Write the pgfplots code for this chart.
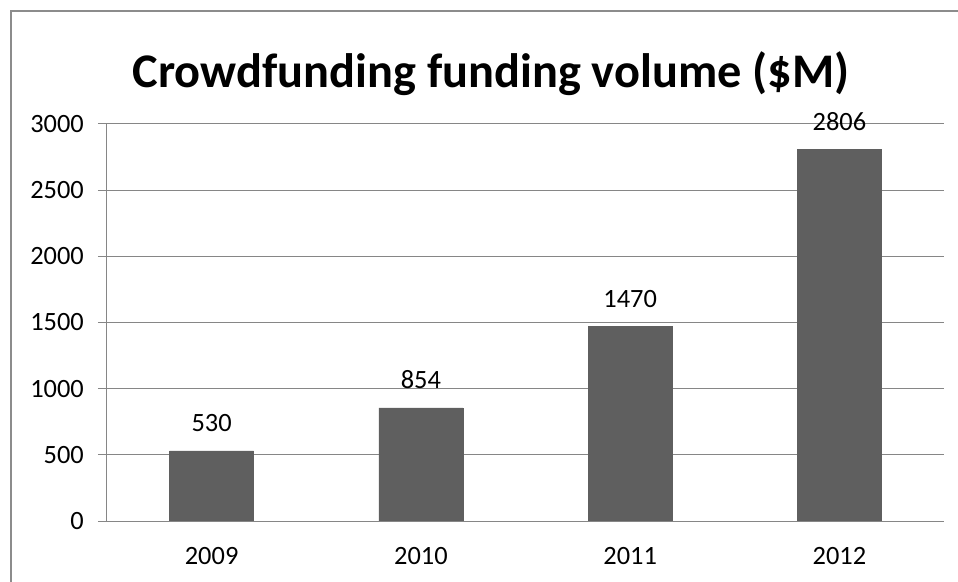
\documentclass[border=0pt]{standalone}
\usepackage{pgfplots}
\pgfplotsset{compat=1.18}
\usepackage{fontspec}
\setmainfont{Carlito}
\definecolor{barcol}{HTML}{5F5F5F}
\definecolor{gridcol}{HTML}{868686}
\definecolor{bordercol}{HTML}{8C8C8C}
\begin{document}
\begin{tikzpicture}
\useasboundingbox (-107bp,-61bp) rectangle (851bp,521bp);
\draw[bordercol, line width=2bp] (-96bp,-62bp) -- (-96bp,510bp) -- (852bp,510bp);
\begin{axis}[
  at={(0,0)}, anchor=south west,
  scale only axis,
  width=837bp, height=397bp,
  xmin=-0.5, xmax=3.5,
  ymin=0, ymax=3000,
  ytick={0,500,...,3000},
  xtick={0,1,2,3},
  xticklabels={2009,2010,2011,2012},
  axis x line*=bottom, axis y line*=left,
  axis line style={gridcol, line width=1bp, -},
  ymajorgrids, major grid style={gridcol, line width=1bp},
  tick style={gridcol, line width=1bp},
  x tick style={draw=none},
  y tick style={gridcol},
  tick align=outside,
  major tick length=9bp,
  extra x ticks={-0.5,0.5,1.5,2.5,3.5},
  extra x tick labels={},
  extra x tick style={major tick length=10bp, grid=none, tick style={gridcol, line width=1bp, draw=gridcol}},
  ticklabel style={font=\fontsize{26.5}{30}\selectfont},
  yticklabel style={anchor=east, inner sep=0pt, xshift=-14bp},
  xticklabel style={anchor=base, inner sep=0pt, yshift=-34bp},
  /pgf/number format/assume math mode=true,
  /pgf/number format/1000 sep={},
  scaled y ticks=false,
  title={Crowdfunding funding volume (\$M)},
  title style={at={(0.5,1)}, anchor=base, yshift=31bp, xshift=-34.5bp, inner sep=0pt, font=\fontsize{48.5}{52}\selectfont\bfseries},
  nodes near coords,
  nodes near coords style={anchor=base, yshift=19bp, inner sep=0pt, font=\fontsize{26.5}{30}\selectfont, /pgf/number format/assume math mode=true, /pgf/number format/1000 sep={}},
]
\addplot[ybar, bar width=84bp, fill=barcol, draw=barcol] coordinates {(0,530) (1,854) (2,1470) (3,2806)};
\end{axis}
\end{tikzpicture}
\end{document}
